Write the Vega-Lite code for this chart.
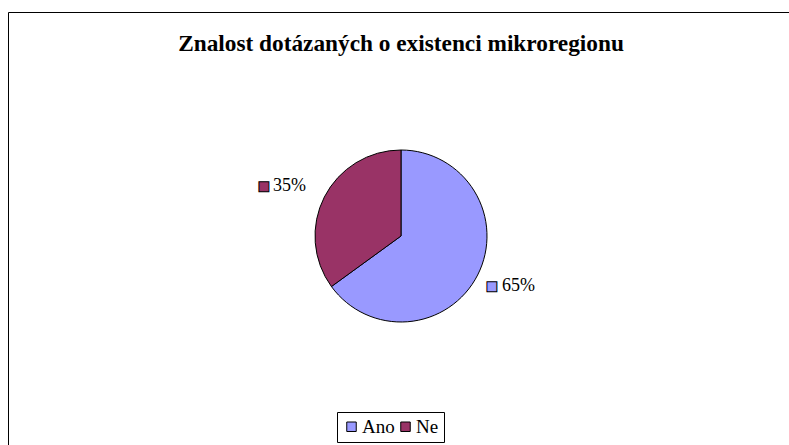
{
  "$schema": "https://vega.github.io/schema/vega-lite/v6.json",
  "width": 786,
  "height": 448,
  "autosize": {"type": "none"},
  "padding": {"left": 8, "top": 12, "right": -5, "bottom": -15},
  "background": "white",
  "view": {"stroke": "black", "strokeWidth": 1, "fill": "white"},
  "title": {
    "text": "Znalost dotázaných o existenci mikroregionu",
    "font": "Liberation Serif",
    "fontSize": 23.3,
    "fontWeight": "bold",
    "color": "black",
    "anchor": "middle",
    "offset": -44
  },
  "data": {
    "values": [
      {"k": "Ano", "v": 65, "lbl": "65%"},
      {"k": "Ne", "v": 35, "lbl": "35%"}
    ]
  },
  "encoding": {
    "theta": {"field": "v", "type": "quantitative", "stack": true},
    "order": {"field": "k", "type": "ordinal", "sort": "ascending"}
  },
  "layer": [
    {
      "mark": {"type": "arc", "outerRadius": 86, "stroke": "black", "strokeWidth": 1},
      "encoding": {
        "color": {
          "field": "k",
          "type": "nominal",
          "scale": {"domain": ["Ano", "Ne"], "range": ["#9999FF", "#993366"]},
          "legend": {
            "title": null,
            "orient": "none",
            "legendX": 329,
            "legendY": 400,
            "direction": "horizontal",
            "strokeColor": "black",
            "fillColor": "white",
            "padding": 5,
            "gridAlign": "all",
            "symbolType": "square",
            "symbolSize": 90,
            "symbolStrokeColor": "black",
            "symbolStrokeWidth": 1,
            "labelFont": "Liberation Serif",
            "labelFontSize": 19,
            "labelColor": "black",
            "labelOffset": 1,
            "columnPadding": 1
          }
        }
      }
    },
    {
      "mark": {
        "type": "text",
        "radius": 110,
        "dx": 3,
        "align": {"expr": "datum.k === 'Ano' ? 'left' : 'right'"},
        "baseline": "middle",
        "font": "Liberation Serif",
        "fontSize": 18,
        "color": "black"
      },
      "encoding": {"text": {"field": "lbl"}}
    },
    {
      "mark": {
        "type": "text",
        "radius": 110,
        "text": "■",
        "font": "DejaVu Sans",
        "fontSize": 13,
        "stroke": "black",
        "strokeWidth": 1,
        "align": "center",
        "baseline": "middle",
        "dx": {"expr": "datum.k === 'Ano' ? -7 : -39"}
      },
      "encoding": {
        "color": {"field": "k", "type": "nominal", "legend": null}
      }
    }
  ]
}
